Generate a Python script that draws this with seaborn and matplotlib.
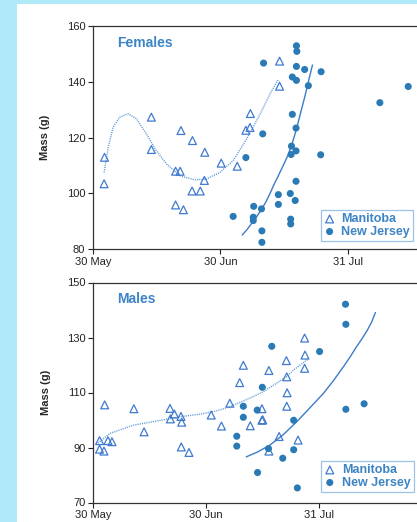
import matplotlib
matplotlib.use("Agg")
import matplotlib.pyplot as plt
import seaborn as sns

# days counted from 30 May (30 Jun = 31, 31 Jul = 62)
tick_days = [0, 31, 62]
tick_labels = ["30 May", "30 Jun", "31 Jul"]
sites = ["Manitoba", "New Jersey"]

# Females
fem_mb_day = [2.8, 2.7, 14.2, 14.2, 20.1, 21.2, 21.4, 20.1, 22.0, 24.2, 24.1, 26.1, 27.2, 27.1,
              31.2, 35.1, 37.2, 38.2, 38.3, 45.4, 45.4]
fem_mb_mass = [112.9, 103.4, 127.3, 115.7, 107.9, 107.9, 122.5, 95.8, 94.1, 118.9, 100.8, 100.8,
               114.7, 104.6, 110.8, 109.7, 122.6, 123.6, 128.6, 147.4, 138.4]
fem_nj_day = [34.1, 37.2, 39.1, 39.0, 39.0, 41.0, 41.1, 41.1, 41.3, 41.5, 45.1, 45.1, 48.0, 48.1,
              48.1, 48.2, 48.3, 48.5, 48.5, 49.2, 49.4, 49.4, 49.4, 49.5, 49.5, 49.6, 49.5, 51.5,
              52.4, 55.5, 55.4, 69.8, 76.7]
fem_nj_mass = [91.7, 112.8, 95.3, 91.4, 90.2, 94.4, 86.5, 82.4, 121.3, 146.7, 99.5, 96.0, 99.9,
               90.7, 89.0, 113.9, 116.9, 128.3, 141.7, 97.4, 104.3, 115.2, 123.4, 140.5, 145.5,
               150.9, 152.9, 144.4, 138.6, 143.6, 113.8, 132.5, 138.3]
# trend lines
fem_mb_fit_day = [2.7, 3.7, 4.9, 6.5, 8.5, 10.6, 13.0, 15.4, 17.9, 21.1, 24.8, 27.6, 30.9, 34.1,
                  37.4, 40.7, 43.1, 45.0]
fem_mb_fit_mass = [107.5, 116.5, 123.7, 127.3, 128.5, 126.7, 121.3, 115.3, 110.5, 106.3, 104.8,
                   105.1, 107.5, 111.7, 119.5, 128.5, 135.7, 140.7]
fem_nj_fit_day = [36.3, 37.5, 38.5, 39.8, 41.1, 42.1, 43.1, 44.0, 45.0, 46.3, 47.4, 48.4, 49.6,
                  50.8, 51.6, 52.4, 53.4]
fem_nj_fit_mass = [85, 87, 89, 91.6, 94.4, 97, 100, 103, 106, 110, 113.5, 117.5, 123.5, 130.5,
                   135, 140, 146]

# Males
male_mb_day = [1.8, 1.8, 3.0, 3.2, 4.1, 5.2, 11.2, 14.0, 21.1, 21.2, 22.3, 24.1, 24.3, 24.2, 26.3,
               32.4, 35.2, 37.5, 40.2, 41.2, 43.1, 46.3, 46.3, 46.5, 48.2, 48.2, 51.0, 53.0, 53.1,
               53.2, 53.1, 56.2, 58.0, 58.1, 58.0]
male_mb_mass = [92.5, 89.4, 88.7, 105.5, 92.5, 92.1, 104.1, 95.7, 104.2, 100.4, 102.2, 101.3,
                99.2, 90.2, 88.2, 101.8, 97.8, 106.1, 113.6, 119.9, 97.9, 104.1, 99.9, 100.1,
                118.0, 88.7, 94.0, 121.6, 115.7, 109.9, 105.0, 92.7, 129.8, 123.6, 118.8]
male_nj_day = [39.4, 39.4, 41.2, 41.2, 45.1, 45.0, 46.4, 48.1, 49.0, 52.0, 55.0, 55.0, 56.0,
               62.1, 69.2, 69.3, 69.3, 74.3]
male_nj_mass = [94.1, 90.5, 105.0, 101.0, 80.9, 103.6, 111.9, 89.6, 126.8, 86.1, 99.9, 89.2,
                75.3, 124.9, 142.1, 134.8, 103.9, 105.9]
male_mb_fit_day = [0.9, 4.6, 11.0, 17.4, 23.8, 29.3, 33.8, 37.5, 43.9, 46.6, 49.4, 53.0, 54.8, 59.0]
male_mb_fit_mass = [91.1, 95.1, 98.1, 99.6, 101.2, 102.1, 103.3, 104.8, 108.5, 110.2, 112.6,
                    115.7, 118.0, 122.2]
male_nj_fit_day = [42.0, 45.0, 48.4, 52.0, 55.8, 59.5, 63.1, 66.0, 68.6, 70.5, 72.2, 73.8, 75.2,
                   76.4, 77.4]
male_nj_fit_mass = [86.6, 88.3, 90.8, 94.5, 99.3, 104.5, 109.6, 114.5, 119.3, 123.0, 126.6,
                    129.7, 132.7, 135.7, 139.1]

sns.set_style("ticks")
plt.rcParams["font.family"] = ["Liberation Sans", "DejaVu Sans"]

tri_col = "#3f7ad0"
dot_col = "#2a7ab5"
txt_col = "#3d84c4"
dotted_col = "#5a9ad8"
solid_col = "#3c7cc6"

fig = plt.figure(figsize=(4.17, 5.22), dpi=100)
fig.patch.set_facecolor("#b0e9f8")
# white panel behind the plots
bg = fig.add_axes([17 / 417, 0, 1, 518 / 522], zorder=-5)
bg.set_facecolor("white")
bg.set_axis_off()
bg.add_patch(plt.Rectangle((0, 0), 1, 1, transform=bg.transAxes, facecolor="white", edgecolor="none"))

ax1 = fig.add_axes([93 / 417, 1 - 249 / 522, 0.887, 223 / 522])
ax2 = fig.add_axes([93 / 417, 1 - 502.5 / 522, 0.875, 220 / 522])

panels = [
    (ax1, "Females", fem_mb_day, fem_mb_mass, fem_nj_day, fem_nj_mass,
     fem_mb_fit_day, fem_mb_fit_mass, fem_nj_fit_day, fem_nj_fit_mass, (0, 90), (80, 160), 0.616, 0.036),
    (ax2, "Males", male_mb_day, male_mb_mass, male_nj_day, male_nj_mass,
     male_mb_fit_day, male_mb_fit_mass, male_nj_fit_day, male_nj_fit_mass, (0, 100), (70, 150), 0.625, 0.048),
]

for (ax, title, mb_d, mb_m, nj_d, nj_m, mbf_d, mbf_m, njf_d, njf_m, xl, yl, lx, ly) in panels:
    ax.set_facecolor("none")
    sns.lineplot(x=mbf_d, y=mbf_m, ax=ax, color=dotted_col, linestyle=(0, (0.8, 0.8)),
                 linewidth=1.0, estimator=None, sort=False)
    sns.lineplot(x=njf_d, y=njf_m, ax=ax, color=solid_col, linewidth=1.0,
                 estimator=None, sort=False)
    sns.scatterplot(x=mb_d, y=mb_m, ax=ax, marker="^", s=32, facecolor="none",
                    edgecolor=tri_col, linewidth=0.9, label=sites[0], zorder=3)
    sns.scatterplot(x=nj_d, y=nj_m, ax=ax, marker="o", s=26, color=dot_col,
                    edgecolor="none", label=sites[1], zorder=3)

    ax.set_xlim(*xl)
    ax.set_ylim(*yl)
    ax.set_xticks(tick_days)
    ax.set_xticklabels(tick_labels)
    ax.set_yticks(range(yl[0], yl[1] + 1, 20))
    ax.tick_params(labelsize=8, length=3.5, width=0.8, colors="#222222", pad=2)
    for sp in ax.spines.values():
        sp.set_linewidth(0.9)
        sp.set_color("#333333")
    ax.set_xlabel("")
    ax.set_ylabel("Mass (g)", fontsize=8, fontweight="bold")
    ax.yaxis.set_label_coords(-0.115, 0.5)

    ax.text(0.065, 0.925, title, transform=ax.transAxes, fontsize=10, fontweight="bold",
            color=txt_col, va="center", ha="left")

    leg = ax.legend(loc="lower left", bbox_to_anchor=(lx, ly), borderaxespad=0,
                    prop={"weight": "bold", "size": 9}, labelcolor=txt_col,
                    handlelength=0.9, handletextpad=0.5, borderpad=0.25, labelspacing=0.05,
                    fancybox=False, framealpha=1, edgecolor="#9cc3e6")
    leg.get_frame().set_linewidth(0.9)

fig.savefig("out.png", dpi=100, facecolor=fig.get_facecolor())
